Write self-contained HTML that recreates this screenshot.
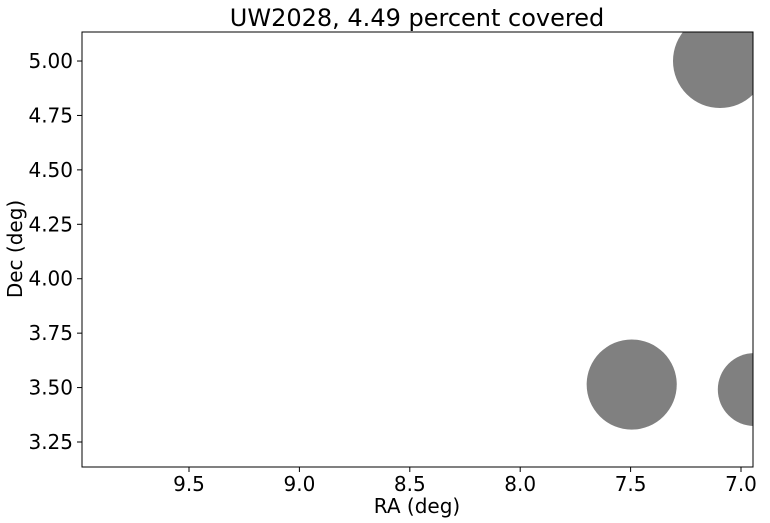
<!DOCTYPE html>
<html><head><meta charset="utf-8">
<style>
html,body{margin:0;padding:0;background:#fff;}
svg{display:block;font-family:"DejaVu Sans","Liberation Sans",sans-serif;}
</style></head>
<body>
<svg id="chart" width="770" height="523" viewBox="0 0 770 523">
<defs><clipPath id="plotclip"><rect x="82" y="32" width="671" height="435"/></clipPath></defs>
<rect x="0" y="0" width="770" height="523" fill="#fff"/>
<text x="417" y="26" font-size="24" text-anchor="middle">UW2028, 4.49 percent covered</text>
<g id="marks" clip-path="url(#plotclip)"></g>
<rect x="82" y="32" width="671" height="435" fill="none" stroke="#000" stroke-width="1"/>
<g id="xticks"></g>
<g id="yticks"></g>
<text x="417" y="513" font-size="20" text-anchor="middle">RA (deg)</text>
<text transform="translate(22,249) rotate(-90)" font-size="20" text-anchor="middle">Dec (deg)</text>
</svg>
<script>
const raValues=[7.095,7.495,6.94];
const decValues=[5.00,3.514,3.491];
const radiusDeg=[0.213,0.204,0.165];
const xTickValues=[9.5,9.0,8.5,8.0,7.5,7.0];
const xTickLabels=["9.5","9.0","8.5","8.0","7.5","7.0"];
const yTickValues=[3.25,3.5,3.75,4.0,4.25,4.5,4.75,5.0];
const yTickLabels=["3.25","3.50","3.75","4.00","4.25","4.50","4.75","5.00"];

const NS="http://www.w3.org/2000/svg";
function xs(v){return 189+(9.5-v)*220.8;}
function ys(v){return 442-(v-3.25)*217.7;}
const marks=document.getElementById('marks');
for(let i=0;i<raValues.length;i++){
  const c=document.createElementNS(NS,'circle');
  c.setAttribute('cx',xs(raValues[i]));
  c.setAttribute('cy',ys(decValues[i]));
  c.setAttribute('r',radiusDeg[i]*220.8);
  c.setAttribute('fill','#808080');
  
  
  marks.appendChild(c);
}
const xg=document.getElementById('xticks');
xTickValues.forEach((v,i)=>{
  const x=xs(v);
  const l=document.createElementNS(NS,'line');
  l.setAttribute('x1',x);l.setAttribute('x2',x);l.setAttribute('y1',467);l.setAttribute('y2',472);
  l.setAttribute('stroke','#000');
  
  
  xg.appendChild(l);
  const t=document.createElementNS(NS,'text');
  t.setAttribute('x',x);t.setAttribute('y',491);t.setAttribute('font-size','20');t.setAttribute('text-anchor','middle');
  t.textContent=xTickLabels[i];
  
  
  xg.appendChild(t);
});
const yg=document.getElementById('yticks');
yTickValues.forEach((v,i)=>{
  const y=ys(v);
  const l=document.createElementNS(NS,'line');
  l.setAttribute('x1',77);l.setAttribute('x2',82);l.setAttribute('y1',y);l.setAttribute('y2',y);
  l.setAttribute('stroke','#000');
  
  
  yg.appendChild(l);
  const t=document.createElementNS(NS,'text');
  t.setAttribute('x',73);t.setAttribute('y',y+7);t.setAttribute('font-size','20');t.setAttribute('text-anchor','end');
  t.textContent=yTickLabels[i];
  
  
  yg.appendChild(t);
});
</script>
</body></html>
